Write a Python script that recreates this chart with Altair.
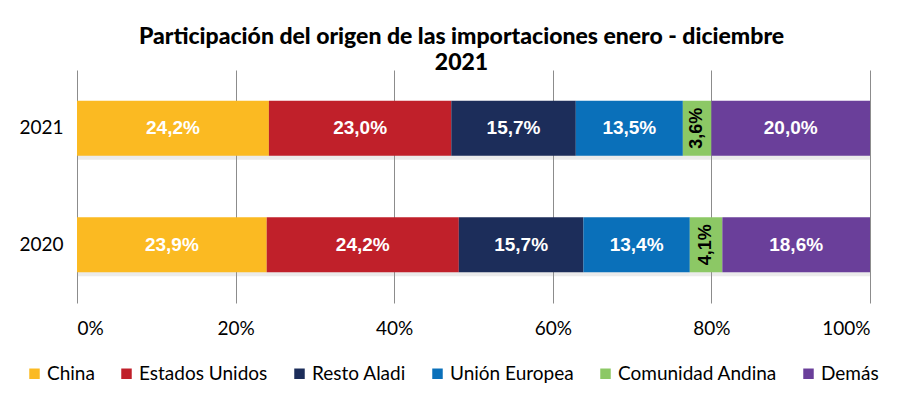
import altair as alt
import pandas as pd

years = ["2021", "2020"]
origins = ["China", "Estados Unidos", "Resto Aladi", "Unión Europea", "Comunidad Andina", "Demás"]
share_2021 = [24.2, 23.0, 15.7, 13.5, 3.6, 20.0]
share_2020 = [23.9, 24.2, 15.7, 13.4, 4.1, 18.6]
colors = ["#FBBA22", "#C0202A", "#1C2D5A", "#0A70BA", "#8CC865", "#6A3F9A"]

rows = []
for yr, vals in zip(years, [share_2021, share_2020]):
    for i, (o, v) in enumerate(zip(origins, vals)):
        rows.append({"year": yr, "origin": o, "order": i, "value": v,
                     "label": f"{v:.1f}%".replace(".", ",")})
df = pd.DataFrame(rows)

base = alt.Chart(df).transform_stack(
    stack="value", groupby=["year"], as_=["x0", "x1"],
    sort=[alt.SortField("order")], offset="normalize"
).transform_calculate(mid="(datum.x0 + datum.x1) / 2")

yenc = alt.Y("year:N", sort=years, title=None,
             scale=alt.Scale(domain=years, paddingInner=0, paddingOuter=0),
             axis=alt.Axis(domain=False, ticks=False, labelPadding=14,
                           labelFontSize=19, labelFont="Lato", labelColor="#000"))
xscale = alt.Scale(domain=[0, 1], nice=False)

shadow = base.mark_bar(size=55, color="#9a9a9a", opacity=0.2, yOffset=4).encode(
    x=alt.X("x0:Q", scale=xscale, title=None,
            axis=alt.Axis(values=[0, 0.2, 0.4, 0.6, 0.8, 1.0], format=".0%",
                          domain=False, ticks=False, grid=True, gridColor="#8c8c8c",
                          gridWidth=1, labelPadding=16, labelFontSize=19,
                          labelFont="Lato", labelColor="#000")),
    x2="x1:Q", y=yenc)

bars = base.mark_bar(size=55).encode(
    x=alt.X("x0:Q", scale=xscale),
    x2="x1:Q", y=yenc,
    color=alt.Color("origin:N", scale=alt.Scale(domain=origins, range=colors),
                    sort=origins, title=None,
                    legend=alt.Legend(orient="none", direction="horizontal",
                                      legendX=-52, legendY=294, symbolType="square",
                                      symbolSize=110, symbolStrokeWidth=0,
                                      labelFontSize=19, labelFont="Lato",
                                      labelColor="#000", columnPadding=22,
                                      symbolOffset=0, labelOffset=3,
                                      columns=6)),
    order=alt.Order("order:Q"))

txt_white = base.transform_filter(alt.datum.origin != "Comunidad Andina").mark_text(
    color="white", fontWeight="bold", fontSize=19, font="Liberation Sans"
).encode(x=alt.X("mid:Q", scale=xscale), y=yenc, text="label:N")

txt_black = base.transform_filter(alt.datum.origin == "Comunidad Andina").mark_text(
    color="black", fontWeight="bold", fontSize=18, font="Liberation Sans", angle=270
).encode(x=alt.X("mid:Q", scale=xscale), y=yenc, text="label:N")

chart = alt.layer(shadow, bars, txt_white, txt_black).properties(
    width=793, height=233,
    title=alt.TitleParams(
        ["Participación del origen de las importaciones enero - diciembre", "2021"],
        font="Lato", fontSize=23, fontWeight=900, color="#000",
        anchor="middle", offset=-5, lineHeight=26, dx=-12),
    autosize=alt.AutoSizeParams(type="none"),
    padding={"left": 69, "top": 62, "right": 42, "bottom": 87}
).configure_view(stroke=None)

chart.save("out.html", embed_options={"renderer": "svg", "actions": False})
